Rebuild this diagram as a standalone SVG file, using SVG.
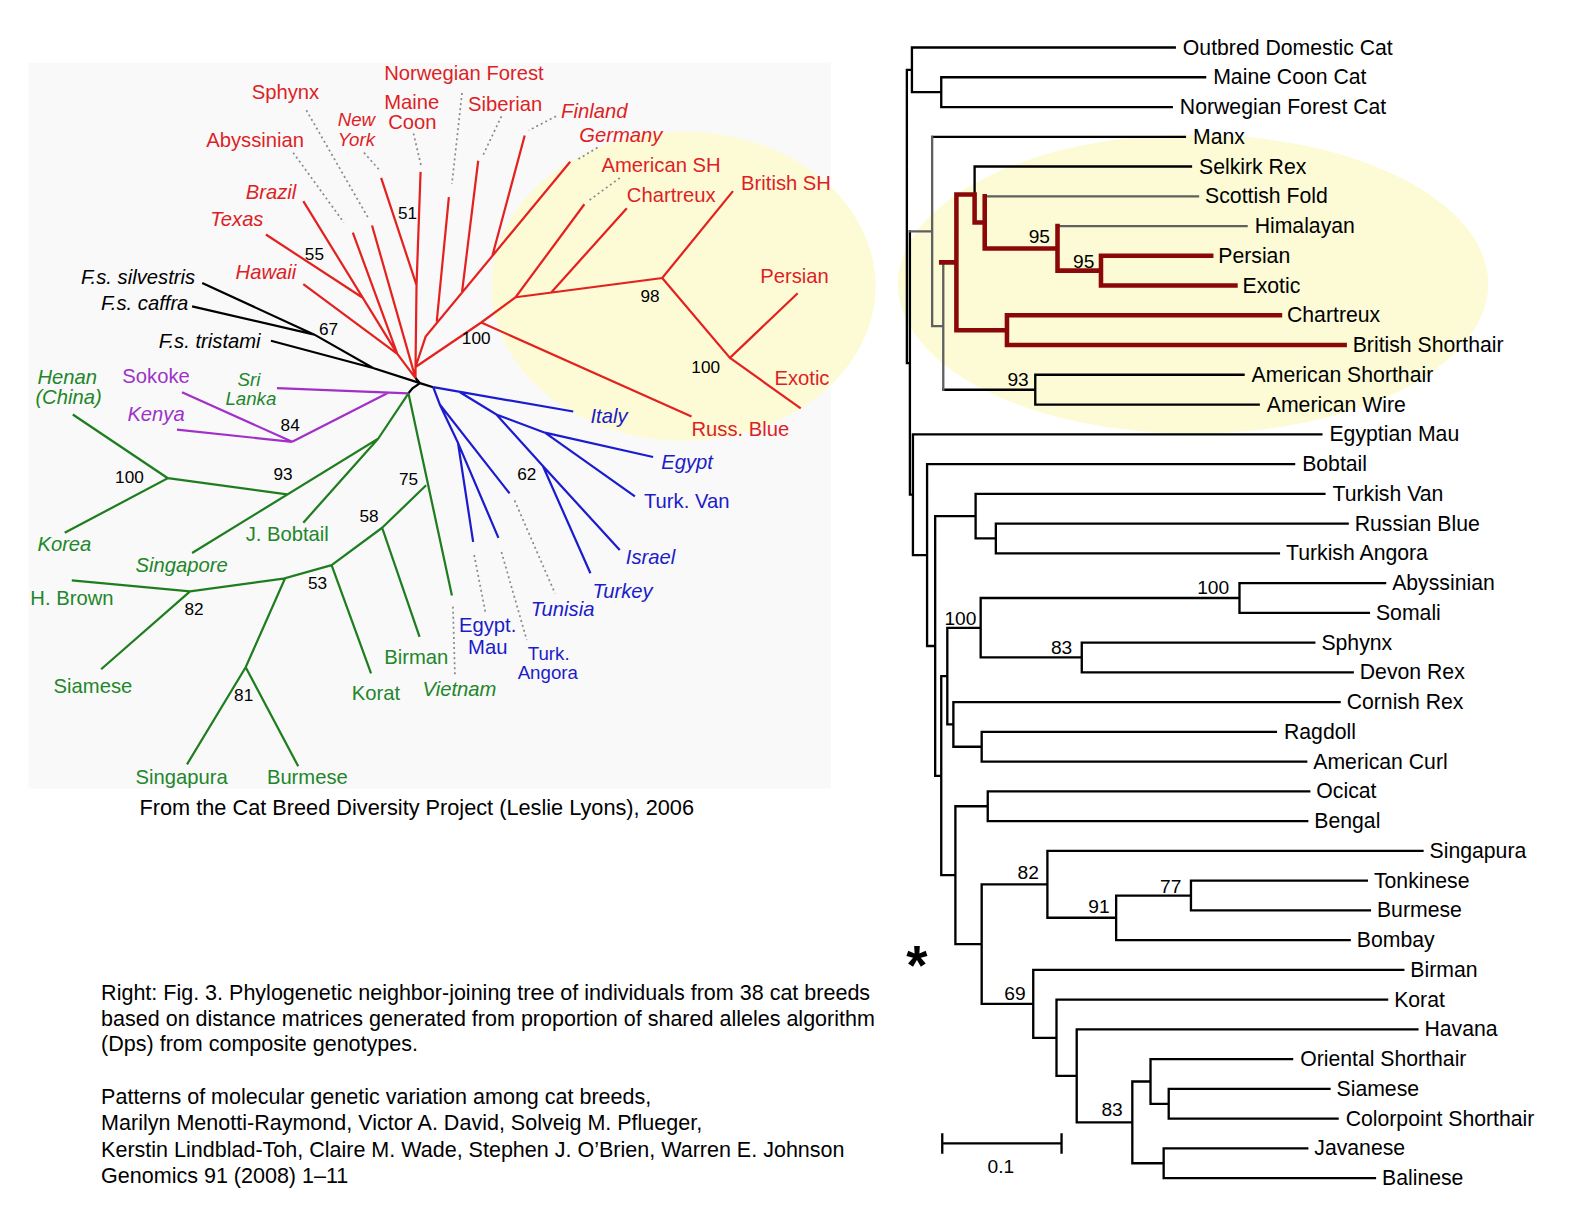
<svg xmlns="http://www.w3.org/2000/svg" width="1588" height="1228" viewBox="0 0 1588 1228">
<style>
text{font-family:"Liberation Sans",Arial,sans-serif}
.rl{font-size:21px;fill:#000}
.rn{font-size:19px;fill:#000;text-anchor:middle}
.ll{font-size:20px}
.st{font-size:18.5px}
.it{font-style:italic}
.ln{font-size:17px;fill:#000;text-anchor:middle}
.cap{font-size:21.3px;fill:#000}
.red{fill:#dd1f26}.blu{fill:#1c1cc8}.grn{fill:#22862a}.pur{fill:#9d33c6}.blk{fill:#000}
.tb{fill:none;stroke:#000;stroke-width:2.3;stroke-linecap:square}
.tg{fill:none;stroke:#606060;stroke-width:2.3;stroke-linecap:square}
.tr{fill:none;stroke:#8b0808;stroke-width:4.5;stroke-linecap:square;stroke-linejoin:miter}
.lr{fill:none;stroke:#e3221f;stroke-width:2.2}
.lk{fill:none;stroke:#000;stroke-width:2.2}
.lp{fill:none;stroke:#a030c8;stroke-width:2.2}
.lg{fill:none;stroke:#1e7d1e;stroke-width:2.2}
.lb{fill:none;stroke:#1b1bd0;stroke-width:2.2}
.ld{fill:none;stroke:#8a8a8a;stroke-width:1.7;stroke-dasharray:2 3}
</style>
<rect x="0" y="0" width="1588" height="1228" fill="#ffffff"/>
<g transform="scale(1.011)">
<rect x="28" y="62" width="794" height="718" fill="#f9f9f9"/>
<ellipse cx="676" cy="283" rx="190" ry="153" fill="#fcfbd6"/>
<ellipse cx="1180" cy="281" rx="292" ry="148" fill="#fcfbd6"/>

<g id="connectors">
<g id="left-tree-lines">
<path class="ld" d="M290,151 L340,220 M303,109 L365,217 M360,151 L376,169 M409,132 L417,166 M457,92 L447,182 M496,115 L478,153 M550,115 L523,129 M591,146 L571,158 M613,176 L583,198 M509,495 L549,587 M469,549 L480,605 M496,546 L521,633 M448,600 L450,668"/>
<path class="lr" d="M263,232 L358,294 M300,199 L393,350 M300,281 L393,350 M349,230 L393,350 M368,223 L411,374 M393,350 L411,374 M377,176 L412,282 M416,170 L412,282 L411,363 L411,374 M564,160 L421,333 L411,363 M519,134 L487,253 M473,159 L457,289 M444,195 L432,318 M411,363 L476,319 L510,294 L578,202 M545,289.5 L620,206 M510,294 L655,275 L725,189 M655,275 L722,354 L789,290 M722,354 L792,404 M476,319 L684,412"/>
<path class="lk" d="M200,280 L311,331 L369,364 L415.5,379 M190,303 L311,331 M268,337 L369,364 M411,374 L415.5,379 L428.5,383 M415.5,379 L408,384 L404,389"/>
<path class="lp" d="M274,384 L404,389 M384,388.5 L289,437 M180,388 L289,437 M175,425 L289,437"/>
<path class="lg" d="M404,389 L374,434 L190,547 M374,434 L300,517 M284,489 L166,473 M72,410 L166,473 L64,527 M404,389 L447,589 M421.5,480 L378,522 L415,630 M378,522 L328,559 L367,666 M328,559 L282,572 L243,660 L185,756 M243,660 L295,758 M282,572 L188,585 L71,574 M188,585 L100,662"/>
<path class="lb" d="M428.5,383 L567,407 M455,388 L491,410 L539,428 L646,452 M539,428 L628,491 M491,410 L537,461 L613,544 M537,461 L584,567 M428.5,383 L435,400 L504,488 M435,400 L453,438 L468,536 M453,438 L493,532"/>
</g>
<g id="right-tree-lines">
<path class="tb" d="M897,69.1 V359.1 M897,69.1 H902 M902,47 V91.1 M902,47 H1162 M902,91.1 H931 M931,76.4 V105.9 M931,76.4 H1192 M931,105.9 H1159 M897,359.1 H900 M900,228.9 V489.3 M922,135.3 H1172 M933,385.5 H1024 M1024,370.7 V400.2 M1024,370.7 H1230 M1024,400.2 H1245 M964,164.7 V192.3 M964,164.7 H1178
M900,489.3 H903 M903,429.6 V549 M903,429.6 H1307 M903,549 H917 M917,459 V639 M917,459 H1280 M917,639 H925 M925,510.5 V767.4 M925,510.5 H965 M965,488.5 V532.6 M965,488.5 H1310 M965,532.6 H985 M985,517.9 V547.3 M985,517.9 H1333 M985,547.3 H1265
M925,767.4 H931 M931,668.8 V865.6 M931,668.8 H937 M937,621 V716.5 M937,621 H970 M970,591.5 V650.3 M970,591.5 H1226 M1226,576.7 V606.2 M1226,576.7 H1370 M1226,606.2 H1354 M970,650.3 H1070 M1070,635.6 V665 M1070,635.6 H1300 M1070,665 H1338 M937,716.5 H943 M943,694.5 V738.6 M943,694.5 H1325 M943,738.6 H971 M971,723.9 V753.3 M971,723.9 H1262 M971,753.3 H1292
M931,865.6 H945 M945,797.5 V933.8 M945,797.5 H977 M977,782.8 V812.2 M977,782.8 H1295 M977,812.2 H1293 M945,933.8 H971 M971,874.7 V992.9 M971,874.7 H1036 M1036,841.6 V907.8 M1036,841.6 H1407 M1036,907.8 H1104 M1104,885.8 V929.9 M1104,929.9 H1335 M1104,885.8 H1178 M1178,871 V900.5 M1178,871 H1352 M1178,900.5 H1355
M971,992.9 H1022 M1022,959.3 V1026.5 M1022,959.3 H1388 M1022,1026.5 H1045 M1045,988.8 V1064.2 M1045,988.8 H1372 M1045,1064.2 H1065 M1065,1018.2 V1110.2 M1065,1018.2 H1402 M1065,1110.2 H1120 M1120,1069.7 V1150.6 M1120,1069.7 H1138 M1138,1047.6 V1091.8 M1138,1047.6 H1278 M1138,1091.8 H1156 M1156,1077 V1106.5 M1156,1077 H1315 M1156,1106.5 H1323 M1120,1150.6 H1151 M1151,1135.9 V1165.3 M1151,1135.9 H1293 M1151,1165.3 H1360"/>
<path class="tg" d="M900,228.9 H922 M922,135.3 V322.5 M922,322.5 H933 M933,259.5 V385.5 M974,194.2 H1185 M1046,223.6 H1233"/>
<path class="tr" d="M931,259.5 H946 M946,192.3 V326.6 M946,192.3 H964 M964,192.3 V220 M964,220 H974 M974,194.2 V245.7 M974,245.7 H1046 M1046,223.6 V267.7 M1046,267.7 H1089 M1089,253 V282.4 M1089,253 H1198 M1089,282.4 H1222 M946,326.6 H996 M996,311.9 V341.3 M996,311.9 H1266 M996,341.3 H1330"/>
<path id="scale-bar" class="tb" d="M932,1131 H1050 M932,1122 V1140 M1050,1122 V1140"/>
</g>
</g>

<g id="left-labels">
<g id="l-norwegian"><text class="ll red" x="380" y="79">Norwegian Forest</text></g>
<g id="l-sphynx"><text class="ll red" x="249" y="98">Sphynx</text></g>
<g id="l-mainecoon"><text class="ll red" x="380" y="108">Maine</text><text class="ll red" x="384" y="128">Coon</text></g>
<g id="l-newyork"><text class="st red it" x="334" y="125">New</text><text class="st red it" x="334" y="144">York</text></g>
<g id="l-siberian"><text class="ll red" x="463" y="110">Siberian</text></g>
<g id="l-finland"><text class="ll red it" x="555" y="117">Finland</text></g>
<g id="l-abyssinian"><text class="ll red" x="204" y="145">Abyssinian</text></g>
<g id="l-germany"><text class="ll red it" x="573" y="140">Germany</text></g>
<g id="l-americansh"><text class="ll red" x="595" y="170">American SH</text></g>
<g id="l-chartreux"><text class="ll red" x="620" y="200">Chartreux</text></g>
<g id="l-britishsh"><text class="ll red" x="733" y="188">British SH</text></g>
<g id="l-brazil"><text class="ll red it" x="243" y="197">Brazil</text></g>
<g id="l-texas"><text class="ll red it" x="208" y="224">Texas</text></g>
<g id="l-hawaii"><text class="ll red it" x="233" y="276">Hawaii</text></g>
<g id="l-persian"><text class="ll red" x="752" y="280">Persian</text></g>
<g id="l-exotic"><text class="ll red" x="766" y="381">Exotic</text></g>
<g id="l-russblue"><text class="ll red" x="684" y="431">Russ. Blue</text></g>
<g id="l-silvestris"><text class="ll blk it" x="80" y="281">F.s. silvestris</text></g>
<g id="l-caffra"><text class="ll blk it" x="100" y="307">F.s. caffra</text></g>
<g id="l-tristami"><text class="ll blk it" x="157" y="344">F.s. tristami</text></g>
<g id="l-sokoke"><text class="ll pur" x="121" y="379">Sokoke</text></g>
<g id="l-kenya"><text class="ll pur it" x="126" y="416">Kenya</text></g>
<g id="l-srilanka"><text class="st grn it" x="235" y="382">Sri</text><text class="st grn it" x="223" y="401">Lanka</text></g>
<g id="l-henan"><text class="ll grn it" x="37" y="380">Henan</text><text class="ll grn it" x="35" y="400">(China)</text></g>
<g id="l-korea"><text class="ll grn it" x="37" y="545">Korea</text></g>
<g id="l-jbobtail"><text class="ll grn" x="243" y="535">J. Bobtail</text></g>
<g id="l-singapore"><text class="ll grn it" x="134" y="566">Singapore</text></g>
<g id="l-hbrown"><text class="ll grn" x="30" y="598">H. Brown</text></g>
<g id="l-siamese"><text class="ll grn" x="53" y="685">Siamese</text></g>
<g id="l-singapura"><text class="ll grn" x="134" y="775">Singapura</text></g>
<g id="l-burmese"><text class="ll grn" x="264" y="775">Burmese</text></g>
<g id="l-korat"><text class="ll grn" x="348" y="692">Korat</text></g>
<g id="l-birman"><text class="ll grn" x="380" y="657">Birman</text></g>
<g id="l-vietnam"><text class="ll grn it" x="418" y="688">Vietnam</text></g>
<g id="l-italy"><text class="ll blu it" x="584" y="418">Italy</text></g>
<g id="l-egypt"><text class="ll blu it" x="654" y="464">Egypt</text></g>
<g id="l-turkvan"><text class="ll blu" x="637" y="502">Turk. Van</text></g>
<g id="l-israel"><text class="ll blu it" x="619" y="558">Israel</text></g>
<g id="l-turkey"><text class="ll blu it" x="586" y="591">Turkey</text></g>
<g id="l-tunisia"><text class="ll blu it" x="525" y="609">Tunisia</text></g>
<g id="l-egyptmau"><text class="ll blu" x="454" y="625">Egypt.</text><text class="ll blu" x="463" y="647">Mau</text></g>
<g id="l-turkangora"><text class="st blu" x="522" y="653">Turk.</text><text class="st blu" x="512" y="672">Angora</text></g>
<g id="l-support">
<text class="ln" x="403" y="217">51</text><text class="ln" x="311" y="257">55</text><text class="ln" x="325" y="331">67</text>
<text class="ln" x="471" y="340">100</text><text class="ln" x="643" y="299">98</text><text class="ln" x="698" y="369">100</text>
<text class="ln" x="287" y="426">84</text><text class="ln" x="128" y="478">100</text><text class="ln" x="280" y="475">93</text>
<text class="ln" x="404" y="480">75</text><text class="ln" x="365" y="516">58</text><text class="ln" x="314" y="583">53</text>
<text class="ln" x="192" y="608">82</text><text class="ln" x="241" y="693">81</text><text class="ln" x="521" y="475">62</text>
</g>
<g id="left-credit"><text style="font-size:21.5px" x="138" y="806">From the Cat Breed Diversity Project (Leslie Lyons), 2006</text></g>
</g>

<g id="right-labels">
<g id="r-outbred"><text class="rl" x="1170" y="54">Outbred Domestic Cat</text></g>
<g id="r-mainecoon"><text class="rl" x="1200" y="83.4">Maine Coon Cat</text></g>
<g id="r-norwegian"><text class="rl" x="1167" y="112.9">Norwegian Forest Cat</text></g>
<g id="r-manx"><text class="rl" x="1180" y="142.3">Manx</text></g>
<g id="r-selkirk"><text class="rl" x="1186" y="171.7">Selkirk Rex</text></g>
<g id="r-scottish"><text class="rl" x="1192" y="201.2">Scottish Fold</text></g>
<g id="r-himalayan"><text class="rl" x="1241" y="230.6">Himalayan</text></g>
<g id="r-persian"><text class="rl" x="1205" y="260">Persian</text></g>
<g id="r-exotic"><text class="rl" x="1229" y="289.4">Exotic</text></g>
<g id="r-chartreux"><text class="rl" x="1273" y="318.9">Chartreux</text></g>
<g id="r-british"><text class="rl" x="1338" y="348.3">British Shorthair</text></g>
<g id="r-amsh"><text class="rl" x="1238" y="377.7">American Shorthair</text></g>
<g id="r-amwire"><text class="rl" x="1253" y="407.2">American Wire</text></g>
<g id="r-egmau"><text class="rl" x="1315" y="436.6">Egyptian Mau</text></g>
<g id="r-bobtail"><text class="rl" x="1288" y="466">Bobtail</text></g>
<g id="r-turkvan"><text class="rl" x="1318" y="495.5">Turkish Van</text></g>
<g id="r-russianblue"><text class="rl" x="1340" y="524.9">Russian Blue</text></g>
<g id="r-turkangora"><text class="rl" x="1272" y="554.3">Turkish Angora</text></g>
<g id="r-abyssinian"><text class="rl" x="1377" y="583.7">Abyssinian</text></g>
<g id="r-somali"><text class="rl" x="1361" y="613.2">Somali</text></g>
<g id="r-sphynx"><text class="rl" x="1307" y="642.6">Sphynx</text></g>
<g id="r-devon"><text class="rl" x="1345" y="672">Devon Rex</text></g>
<g id="r-cornish"><text class="rl" x="1332" y="701.5">Cornish Rex</text></g>
<g id="r-ragdoll"><text class="rl" x="1270" y="730.9">Ragdoll</text></g>
<g id="r-amcurl"><text class="rl" x="1299" y="760.3">American Curl</text></g>
<g id="r-ocicat"><text class="rl" x="1302" y="789.8">Ocicat</text></g>
<g id="r-bengal"><text class="rl" x="1300" y="819.2">Bengal</text></g>
<g id="r-singapura"><text class="rl" x="1414" y="848.6">Singapura</text></g>
<g id="r-tonkinese"><text class="rl" x="1359" y="878">Tonkinese</text></g>
<g id="r-burmese"><text class="rl" x="1362" y="907.5">Burmese</text></g>
<g id="r-bombay"><text class="rl" x="1342" y="936.9">Bombay</text></g>
<g id="r-birman"><text class="rl" x="1395" y="966.3">Birman</text></g>
<g id="r-korat"><text class="rl" x="1379" y="995.8">Korat</text></g>
<g id="r-havana"><text class="rl" x="1409" y="1025.2">Havana</text></g>
<g id="r-oriental"><text class="rl" x="1286" y="1054.6">Oriental Shorthair</text></g>
<g id="r-siamese"><text class="rl" x="1322" y="1084">Siamese</text></g>
<g id="r-colorpoint"><text class="rl" x="1331" y="1113.5">Colorpoint Shorthair</text></g>
<g id="r-javanese"><text class="rl" x="1300" y="1142.9">Javanese</text></g>
<g id="r-balinese"><text class="rl" x="1367" y="1172.3">Balinese</text></g>
<g id="r-support">
<text class="rn" x="1028" y="240">95</text><text class="rn" x="1072" y="265">95</text><text class="rn" x="1007" y="382">93</text>
<text class="rn" x="1200" y="588">100</text><text class="rn" x="950" y="618">100</text><text class="rn" x="1050" y="647">83</text>
<text class="rn" x="1017" y="869">82</text><text class="rn" x="1158" y="883">77</text><text class="rn" x="1087" y="903">91</text>
<text class="rn" x="1004" y="989">69</text><text class="rn" x="1100" y="1104">83</text>
</g>
<g id="r-scale-label"><text class="rn" x="990" y="1160">0.1</text></g>
<g id="r-asterisk"><text x="907" y="973" style="font-size:54px;font-weight:bold;text-anchor:middle">*</text></g>
</g>

<g id="caption">
<text class="cap" x="100" y="989">Right: Fig. 3. Phylogenetic neighbor-joining tree of individuals from 38 cat breeds</text>
<text class="cap" x="100" y="1015">based on distance matrices generated from proportion of shared alleles algorithm</text>
<text class="cap" x="100" y="1040">(Dps) from composite genotypes.</text>
<text class="cap" x="100" y="1092">Patterns of molecular genetic variation among cat breeds,</text>
<text class="cap" x="100" y="1118">Marilyn Menotti-Raymond, Victor A. David, Solveig M. Pflueger,</text>
<text class="cap" x="100" y="1144">Kerstin Lindblad-Toh, Claire M. Wade, Stephen J. O’Brien, Warren E. Johnson</text>
<text class="cap" x="100" y="1170">Genomics 91 (2008) 1–11</text>
</g>
</g>
</svg>
